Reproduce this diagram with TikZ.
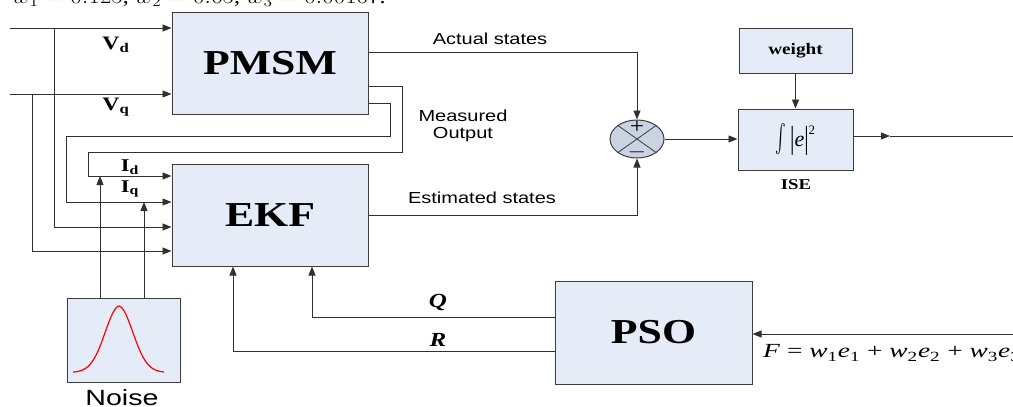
\documentclass[tikz,border=0pt]{standalone}
\usepackage{graphicx}
\usepackage{fontspec}
\setmainfont{Liberation Serif}
\setsansfont{Liberation Sans}
\usetikzlibrary{arrows.meta,shapes.geometric}
\definecolor{boxfill}{HTML}{E6ECF7}
\definecolor{sumfill}{HTML}{C9D3E2}
\definecolor{edge}{HTML}{3C3C3C}
\definecolor{wire}{HTML}{303030}
% horizontally widened text
\newcommand\wx[2][1.25]{\scalebox{#1}[1]{#2}}
\newcommand\fs[1]{\fontsize{#1}{#1}\selectfont}
% tall bar for the squared-error block
\newcommand\tallbar{\raisebox{-0.12em}{\scalebox{1}[1.45]{|}}}
\tikzset{
  blk/.style={draw=edge, fill=boxfill, line width=1pt, inner sep=0pt},
  wirestyle/.style={draw=wire, line width=0.9pt},
  arr/.style={wirestyle, -{Triangle[length=9pt,width=7pt]}},
  lbl/.style={inner sep=0pt, text=black},
}
\begin{document}
\begin{tikzpicture}[x=1pt,y=-1pt]
\useasboundingbox (0,0) rectangle (1013,407);
\clip (0,0) rectangle (1013,407);

% weights line at the top edge
\node[lbl, anchor=base west] (wts) at (12,3)
  {\fs{20}\wx[1.2]{$w_1=0.125$, $w_2=0.65$, $w_3=0.00167$.}};

% blocks
\node[blk, minimum width=196pt, minimum height=102pt] (pmsm) at (270,63)
  {\fs{35}\bfseries\wx{PMSM}};
\node[blk, minimum width=196pt, minimum height=102pt] (ekf) at (270,215)
  {\fs{35}\bfseries\wx{EKF}};
\node[blk, minimum width=197pt, minimum height=103pt] (pso) at (653.5,332.5)
  {\fs{35}\bfseries\wx{PSO}};
\node[blk, minimum width=113pt, minimum height=45pt] (weight) at (795.5,50.5)
  {\fs{16}\bfseries\wx[1.2]{weight}};
\node[blk, minimum width=115pt, minimum height=61pt] (ise) at (795.5,139.5)
  {\fs{22}\raisebox{-0.32em}{\scalebox{1.6}[2.8]{$\int$}}\,\tallbar\textit{e}\tallbar\raisebox{0.55em}{\fs{13}2}};
\node[blk, minimum width=113pt, minimum height=84pt] (noise) at (123.5,340) {};
\node[draw=edge, fill=sumfill, line width=1pt, ellipse, inner sep=0pt,
      minimum width=54pt, minimum height=38pt] (sum) at (637,139) {};

% summing junction marks
\draw[draw=edge, line width=0.8pt] (sum.north west) -- (sum.south east)
  (sum.north east) -- (sum.south west);
\node[lbl] (plus) at (637,127) {\fs{22}\wx[1.15]{+}};
\node[lbl] (minus) at (637,152) {\fs{22}\wx[1.15]{$-$}};

% noise density curve
\draw[red, line width=1.2pt, line join=round]
  plot[domain=73:164, samples=80, smooth]
  (\x, {373-62*exp(-((\x-119)/14)*((\x-119)/14)/2) - 5*exp(-abs(\x-119)/22)});

% labels
\node[lbl] (vd) at (116,45) {\fs{19}\bfseries\wx{V\textsubscript{d}}};
\node[lbl] (vq) at (116,107) {\fs{19}\bfseries\wx{V\textsubscript{q}}};
\node[lbl] (id) at (130,167) {\fs{18}\bfseries\wx{I\textsubscript{d}}};
\node[lbl] (iq) at (130,189) {\fs{18}\bfseries\wx{I\textsubscript{q}}};
\node[lbl] (act) at (490,39) {\fs{16}\sffamily\wx{Actual states}};
\node[lbl, align=center, font=\fontsize{16}{17}\selectfont\sffamily] (meas) at (463,126)
  {\wx{Measured}\\\wx{Output}};
\node[lbl] (estl) at (482,198) {\fs{16}\sffamily\wx{Estimated states}};
\node[lbl] (isel) at (796,185) {\fs{15}\bfseries\wx{ISE}};
\node[lbl] (ql) at (438,302) {\fs{20}\bfseries\itshape\wx{Q}};
\node[lbl] (rl) at (438,340) {\fs{20}\bfseries\itshape\wx{R}};
\node[lbl, anchor=base] (noisel) at (122,405) {\fs{22}\sffamily\wx[1.3]{Noise}};
\node[lbl, anchor=west] (fit) at (763,353)
  {\fs{20}\wx[1.37]{\textit{F} = \textit{w}\textsubscript{1}\textit{e}\textsubscript{1}
   + \textit{w}\textsubscript{2}\textit{e}\textsubscript{2}
   + \textit{w}\textsubscript{3}\textit{e}\textsubscript{3}}};

% bend points of the wiring
\coordinate (vdin) at (10,28);
\coordinate (vqin) at (10,94);
\coordinate (tapd) at (54,28);
\coordinate (tapdl) at (54,227);
\coordinate (tapq) at (32,94);
\coordinate (tapql) at (32,251);
\coordinate (m1a) at (402,86);
\coordinate (m1b) at (402,152);
\coordinate (m1c) at (88,152);
\coordinate (m1d) at (88,176);
\coordinate (m2a) at (390,103);
\coordinate (m2b) at (390,136);
\coordinate (m2c) at (66,136);
\coordinate (m2d) at (66,202);
\coordinate (n1) at (100,176);
\coordinate (n2) at (144,202);
\coordinate (actual) at (637,52);
\coordinate (qbend) at (312,317);
\coordinate (rbend) at (233,351);
\coordinate (outmid) at (890,136);
\coordinate (outend) at (1013,136);
\coordinate (fin) at (1013,334);

% inputs
\draw[arr] (vdin) -- (pmsm.west |- vdin);
\draw[arr] (vqin) -- (pmsm.west |- vqin);
\draw[arr] (tapd) -- (tapdl) -- (ekf.west |- tapdl);
\draw[arr] (tapq) -- (tapql) -- (ekf.west |- tapql);

% measured outputs fed back to the filter
\draw[arr] (pmsm.east |- m1a) -- (m1a) -- (m1b) -- (m1c) -- (m1d) -- (ekf.west |- m1d);
\draw[arr] (pmsm.east |- m2a) -- (m2a) -- (m2b) -- (m2c) -- (m2d) -- (ekf.west |- m2d);

% measurement noise
\draw[arr] (noise.north -| n1) -- (n1);
\draw[arr] (noise.north -| n2) -- (n2);

% error path
\draw[arr] (pmsm.east |- actual) -| (sum.north);
\draw[arr] (ekf.east) -| (sum.south);
\draw[arr] (sum.east) -- (ise.west |- sum.east);
\draw[arr] (weight.south) -- (ise.north);
\draw[arr] (ise.east |- outmid) -- (outmid);
\draw[wirestyle] (outmid) -- (outend);

% optimiser
\draw[arr] (fin) -- (pso.east |- fin);
\draw[arr] (pso.west |- qbend) -- (qbend) -- (qbend |- ekf.south);
\draw[arr] (pso.west |- rbend) -- (rbend) -- (rbend |- ekf.south);
\end{tikzpicture}
\end{document}
